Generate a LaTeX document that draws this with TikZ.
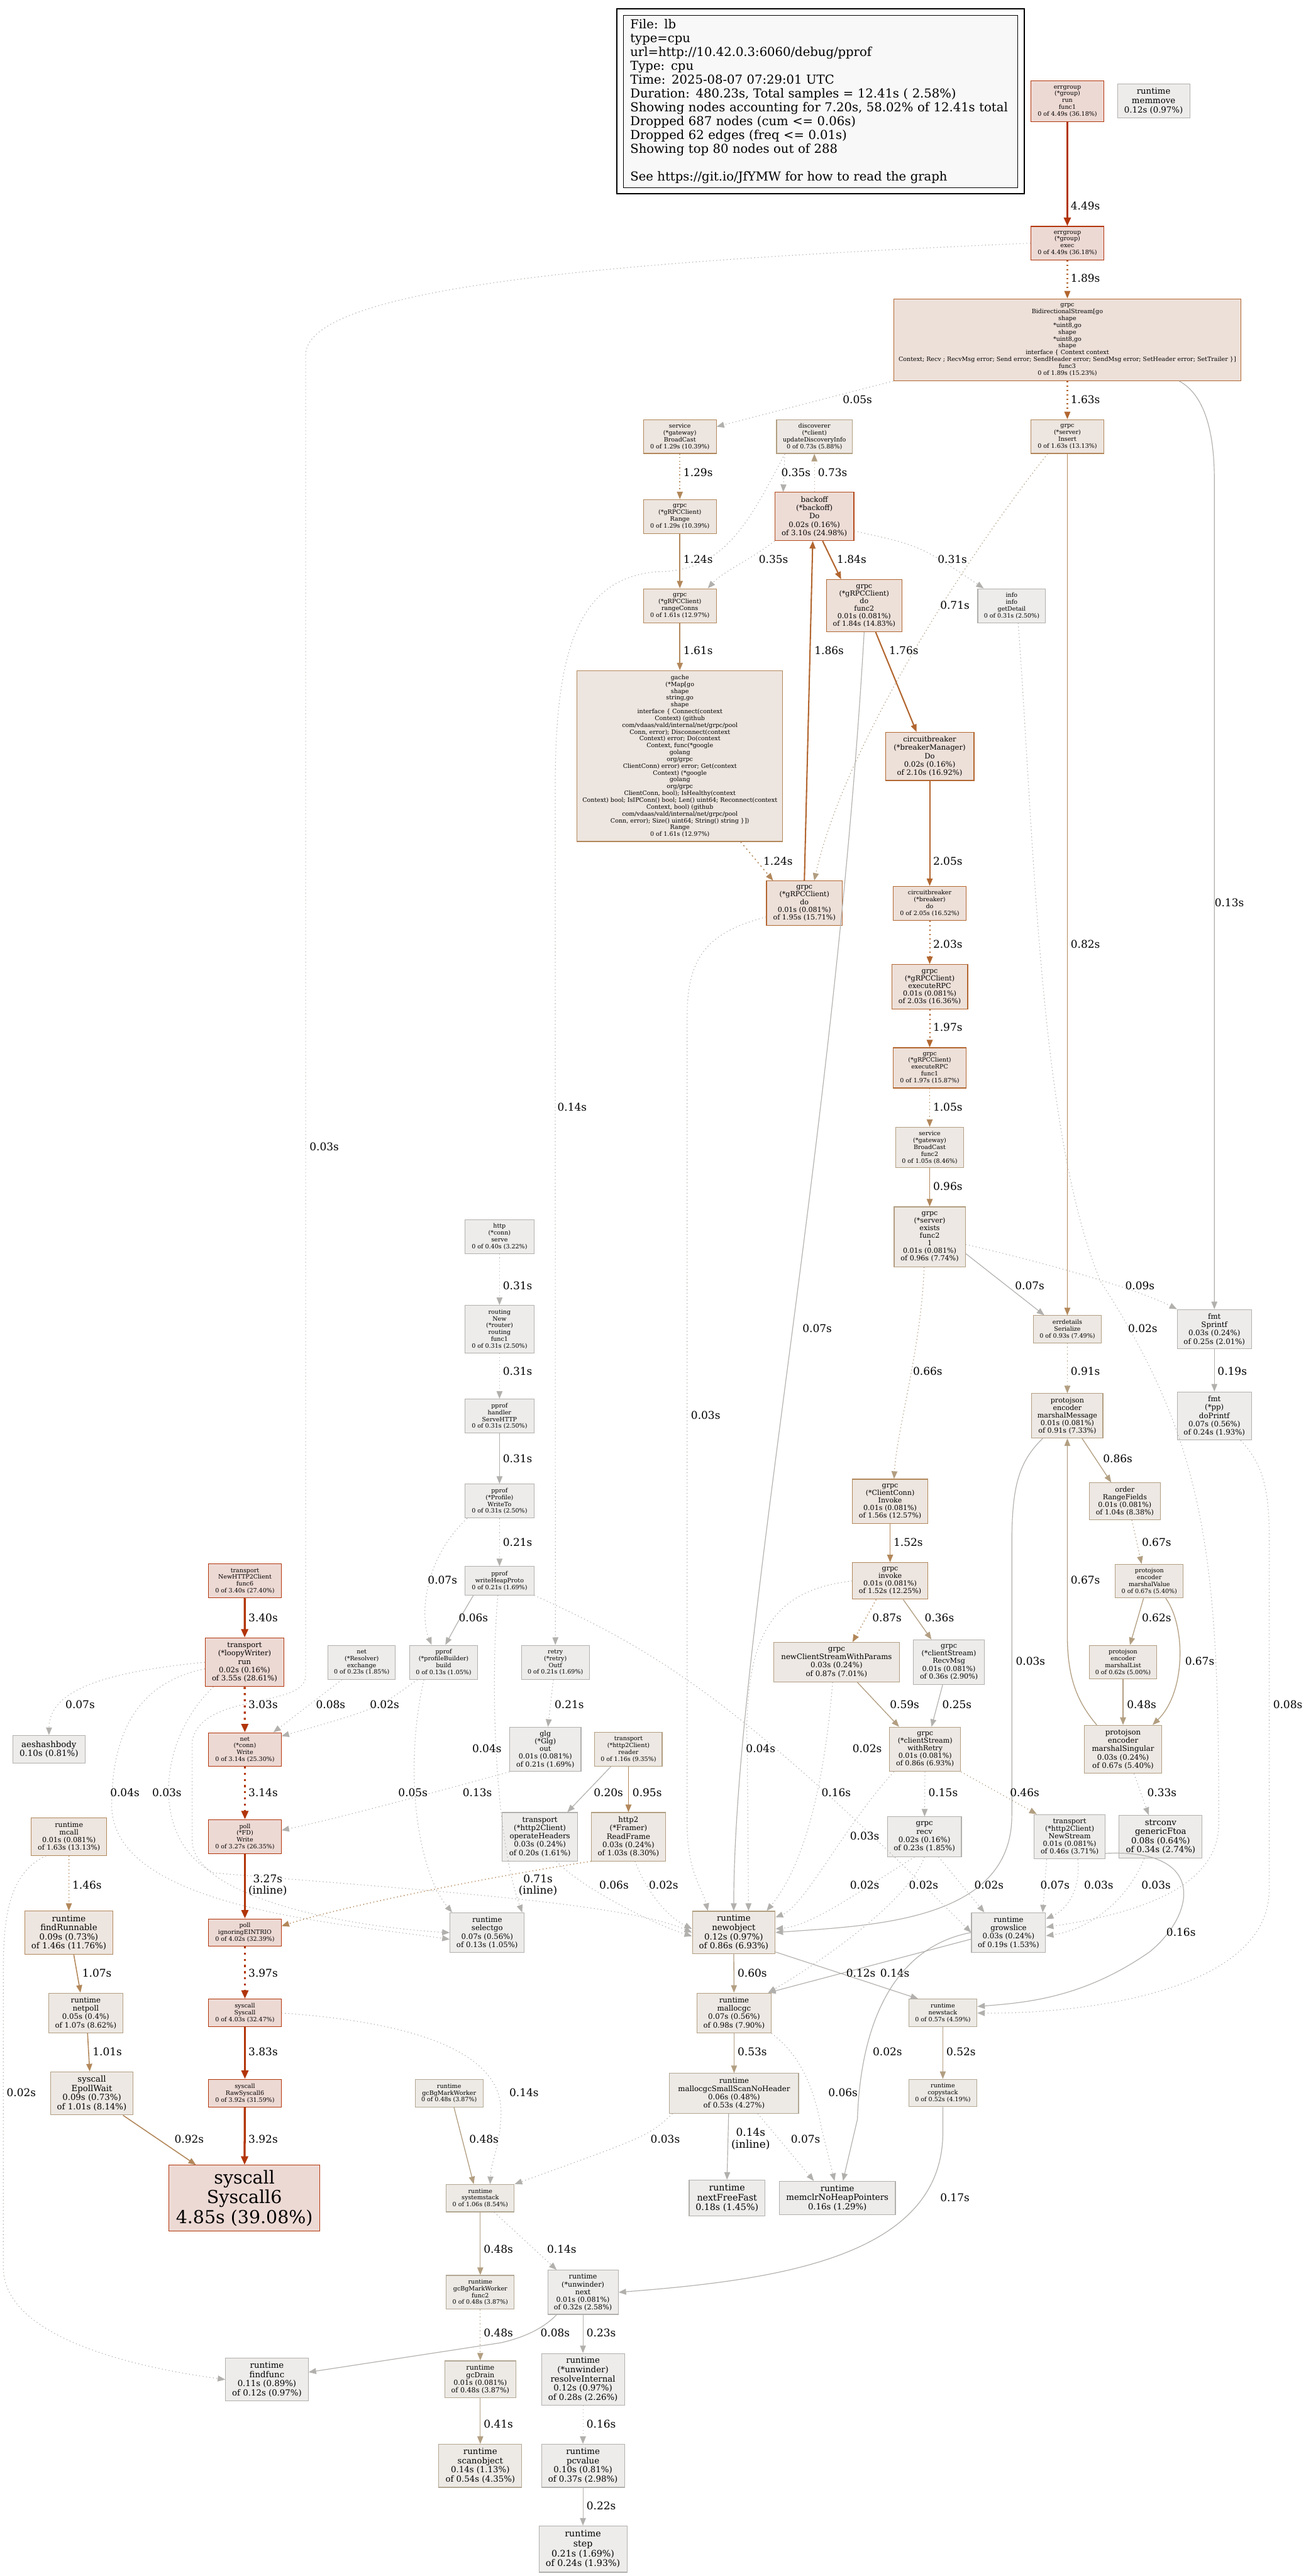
\documentclass[tikz,border=0pt]{standalone}
\usepackage{fontspec}
\setmainfont{DejaVu Serif}
\usetikzlibrary{arrows.meta, positioning}

\definecolor{redln}{HTML}{B2350A}
\definecolor{redfl}{HTML}{EDD9D4}
\definecolor{horln}{HTML}{B2491B}
\definecolor{horfl}{HTML}{EDDCD6}
\definecolor{orgln}{HTML}{B2662F}
\definecolor{orgfl}{HTML}{EDE0D9}
\definecolor{tanln}{HTML}{B2875A}
\definecolor{tanfl}{HTML}{EDE5DF}
\definecolor{bgeln}{HTML}{B29E81}
\definecolor{bgefl}{HTML}{EDE8E3}
\definecolor{lbgln}{HTML}{B2A793}
\definecolor{lbgfl}{HTML}{EDEAE6}
\definecolor{gryln}{HTML}{B2B0AD}
\definecolor{gryfl}{HTML}{EDECEB}
\definecolor{legfl}{HTML}{F8F8F8}

\begin{document}
\begin{tikzpicture}[x=1pt, y=-1pt,
  nd/.style={draw, line width=0.42pt, inner sep=0pt, align=center},
  sz/.style 2 args={minimum width=#1pt, minimum height=#2pt},
  hotbox/.style={nd, draw=redln, fill=redfl},
  horbox/.style={nd, draw=horln, fill=horfl},
  orgbox/.style={nd, draw=orgln, fill=orgfl},
  tanbox/.style={nd, draw=tanln, fill=tanfl},
  bgebox/.style={nd, draw=bgeln, fill=bgefl},
  lbgbox/.style={nd, draw=lbgln, fill=lbgfl},
  grybox/.style={nd, draw=gryln, fill=gryfl},
  f0/.style={font=\fontsize{3.65}{4.15}\selectfont},
  f1/.style={font=\fontsize{4.25}{4.62}\selectfont},
  f2/.style={font=\fontsize{4.45}{5.08}\selectfont},
  f3/.style={font=\fontsize{4.5}{5.08}\selectfont},
  f4/.style={font=\fontsize{5.1}{5.6}\selectfont},
  f5/.style={font=\fontsize{5.45}{6}\selectfont},
  f6/.style={font=\fontsize{10.9}{11.95}\selectfont},
  lab/.style={font=\fontsize{6.5}{7.1}\selectfont, inner sep=0pt, align=center},
  ed/.style={draw=gryln, line width=0.45pt, -{Triangle[length=4.6pt, width=3.6pt]}},
  cr/.style={draw=redln, line width=1.25pt, -{Triangle[length=5.2pt, width=4.2pt]}},
  co/.style={draw=orgln, line width=0.8pt},
  ct/.style={draw=tanln, line width=0.6pt},
  cb/.style={draw=bgeln, line width=0.5pt},
  dt/.style={dash pattern=on 0.5pt off 1.6pt},
  dm/.style={dash pattern=on 0.8pt off 1.9pt},
  dh/.style={dash pattern=on 1.25pt off 2.5pt}]
\useasboundingbox (0,0) rectangle (795,1568);

% legend
\node[draw=black, fill=legfl, line width=0.5pt, inner xsep=4.1pt, inner ysep=0pt,
  minimum height=104.9pt, text width=231.7pt, align=left,
  font=\fontsize{7.5}{8.43}\selectfont] (legend) at (499.55,61.75)
  {File: lb\\type=cpu\\url=http://10.42.0.3:6060/debug/pprof\\Type: cpu\\Time: 2025-08-07 07:29:01 UTC\\Duration: 480.23s, Total samples = 12.41s ( 2.58\%)\\Showing nodes accounting for 7.20s, 58.02\% of 12.41s total\\Dropped 687 nodes (cum <= 0.06s)\\Dropped 62 edges (freq <= 0.01s)\\Showing top 80 nodes out of 288\\[8.43pt]See https://git.io/JfYMW for how to read the graph};
\draw[line width=0.6pt] ([shift={(-3.8,-3.7)}]legend.north west) rectangle ([shift={(3.8,3.4)}]legend.south east);

% nodes
\node[hotbox, f0, sz={44.3}{24.8}] (grun) at (649.8,61.6) {errgroup\\(*group)\\run\\func1\\0 of 4.49s (36.18\%)};
\node[grybox, f4, sz={44}{20.5}] (memmove) at (702.3,61.5) {runtime\\memmove\\0.12s (0.97\%)};
\node[hotbox, f0, sz={44.3}{20.4}] (gexec) at (649.8,148) {errgroup\\(*group)\\exec\\0 of 4.49s (36.18\%)};
\node[orgbox, f0, sz={211.4}{49.8}] (bidi) at (649.8,206.8) {grpc\\BidirectionalStream[go\\shape\\*uint8,go\\shape\\*uint8,go\\shape\\interface \{ Context context\\Context; Recv ; RecvMsg error; Send error; SendHeader error; SendMsg error; SetHeader error; SetTrailer \}]\\func3\\0 of 1.89s (15.23\%)};
\node[tanbox, f0, sz={44.3}{20.6}] (bcast) at (413.9,265.7) {service\\(*gateway)\\BroadCast\\0 of 1.29s (10.39\%)};
\node[bgebox, f0, sz={46.1}{20.6}] (disc) at (495.8,265.7) {discoverer\\(*client)\\updateDiscoveryInfo\\0 of 0.73s (5.88\%)};
\node[tanbox, f0, sz={44.3}{20.6}] (insert) at (649.8,265.7) {grpc\\(*server)\\Insert\\0 of 1.63s (13.13\%)};
\node[tanbox, f0, sz={44.3}{20.6}] (range) at (413.9,314.4) {grpc\\(*gRPCClient)\\Range\\0 of 1.29s (10.39\%)};
\node[horbox, f2, sz={48.1}{29.4}] (backoff) at (495.8,314.4) {backoff\\(*backoff)\\Do\\0.02s (0.16\%)\\of 3.10s (24.98\%)};
\node[tanbox, f0, sz={44.3}{20.7}] (rconns) at (413.9,368.7) {grpc\\(*gRPCClient)\\rangeConns\\0 of 1.61s (12.97\%)};
\node[orgbox, f1, sz={46}{31.7}] (dofunc2) at (526.1,368.7) {grpc\\(*gRPCClient)\\do\\func2\\0.01s (0.081\%)\\of 1.84s (14.83\%)};
\node[grybox, f0, sz={41.3}{20.7}] (info) at (615.9,368.7) {info\\info\\getDetail\\0 of 0.31s (2.50\%)};
\node[tanbox, f0, sz={125.3}{104}] (gache) at (413.9,460.2) {gache\\(*Map[go\\shape\\string,go\\shape\\interface \{ Connect(context\\Context) (github\\com/vdaas/vald/internal/net/grpc/pool\\Conn, error); Disconnect(context\\Context) error; Do(context\\Context, func(*google\\golang\\org/grpc\\ClientConn) error) error; Get(context\\Context) (*google\\golang\\org/grpc\\ClientConn, bool); IsHealthy(context\\Context) bool; IsIPConn() bool; Len() uint64; Reconnect(context\\Context, bool) (github\\com/vdaas/vald/internal/net/grpc/pool\\Conn, error); Size() uint64; String() string \}])\\Range\\0 of 1.61s (12.97\%)};
\node[orgbox, f2, sz={53.9}{29.3}] (cbmgr) at (566,460.4) {circuitbreaker\\(*breakerManager)\\Do\\0.02s (0.16\%)\\of 2.10s (16.92\%)};
\node[orgbox, f1, sz={46.1}{26.9}] (do) at (489.7,549.7) {grpc\\(*gRPCClient)\\do\\0.01s (0.081\%)\\of 1.95s (15.71\%)};
\node[orgbox, f0, sz={44.3}{20.6}] (cbdo) at (566,549.8) {circuitbreaker\\(*breaker)\\do\\0 of 2.05s (16.52\%)};
\node[orgbox, f1, sz={46.3}{27.3}] (exec) at (566,600.7) {grpc\\(*gRPCClient)\\executeRPC\\0.01s (0.081\%)\\of 2.03s (16.36\%)};
\node[orgbox, f0, sz={44.3}{24.5}] (execf1) at (566,650) {grpc\\(*gRPCClient)\\executeRPC\\func1\\0 of 1.97s (15.87\%)};
\node[bgebox, f0, sz={41.3}{24.7}] (bcastf2) at (566,698.5) {service\\(*gateway)\\BroadCast\\func2\\0 of 1.05s (8.46\%)};
\node[bgebox, f1, sz={43.3}{36.4}] (exists) at (566,752.8) {grpc\\(*server)\\exists\\func2\\1\\0.01s (0.081\%)\\of 0.96s (7.74\%)};
\node[grybox, f0, sz={41.9}{20.6}] (httpserve) at (304.1,752.7) {http\\(*conn)\\serve\\0 of 0.40s (3.22\%)};
\node[grybox, f0, sz={41.9}{29.1}] (router) at (304.1,809.1) {routing\\New\\(*router)\\routing\\func1\\0 of 0.31s (2.50\%)};
\node[bgebox, f0, sz={41.3}{16.6}] (errdet) at (649.8,809.1) {errdetails\\Serialize\\0 of 0.93s (7.49\%)};
\node[grybox, f3, sz={45.1}{24}] (sprintf) at (739.3,809.1) {fmt\\Sprintf\\0.03s (0.24\%)\\of 0.25s (2.01\%)};
\node[grybox, f0, sz={41.9}{20.8}] (servehttp) at (304.1,862) {pprof\\handler\\ServeHTTP\\0 of 0.31s (2.50\%)};
\node[bgebox, f1, sz={43.3}{27.1}] (mmsg) at (649.8,861.8) {protojson\\encoder\\marshalMessage\\0.01s (0.081\%)\\of 0.91s (7.33\%)};
\node[grybox, f3, sz={45.1}{29.3}] (doprintf) at (739.3,861.9) {fmt\\(*pp)\\doPrintf\\0.07s (0.56\%)\\of 0.24s (1.93\%)};
\node[grybox, f0, sz={41.9}{20.6}] (writeto) at (304.1,913.7) {pprof\\(*Profile)\\WriteTo\\0 of 0.31s (2.50\%)};
\node[tanbox, f1, sz={45.8}{27.1}] (invoke) at (541.9,913.9) {grpc\\(*ClientConn)\\Invoke\\0.01s (0.081\%)\\of 1.56s (12.57\%)};
\node[bgebox, f1, sz={43.3}{22.5}] (rfields) at (684.8,913.8) {order\\RangeFields\\0.01s (0.081\%)\\of 1.04s (8.38\%)};
\node[hotbox, f0, sz={44.2}{20.6}] (h2func6) at (149.1,962.3) {transport\\NewHTTP2Client\\func6\\0 of 3.40s (27.40\%)};
\node[grybox, f0, sz={41.9}{17.3}] (heapproto) at (304.1,962.2) {pprof\\writeHeapProto\\0 of 0.21s (1.69\%)};
\node[tanbox, f1, sz={45.8}{22.3}] (ginvoke) at (541.9,962.3) {grpc\\invoke\\0.01s (0.081\%)\\of 1.52s (12.25\%)};
\node[bgebox, f0, sz={41.3}{20.5}] (mval) at (699.7,962.4) {protojson\\encoder\\marshalValue\\0 of 0.67s (5.40\%)};
\node[hotbox, f2, sz={48}{29.6}] (loopy) at (148.9,1011.8) {transport\\(*loopyWriter)\\run\\0.02s (0.16\%)\\of 3.55s (28.61\%)};
\node[grybox, f0, sz={41.1}{20.7}] (resolver) at (220.2,1011.8) {net\\(*Resolver)\\exchange\\0 of 0.23s (1.85\%)};
\node[grybox, f0, sz={41.4}{20.7}] (pbuild) at (270.1,1011.8) {pprof\\(*profileBuilder)\\build\\0 of 0.13s (1.05\%)};
\node[grybox, f0, sz={41.4}{20.7}] (retry) at (338.1,1011.8) {retry\\(*retry)\\Outf\\0 of 0.21s (1.69\%)};
\node[bgebox, f3, sz={76.7}{24.1}] (newcs) at (509.3,1011.8) {grpc\\newClientStreamWithParams\\0.03s (0.24\%)\\of 0.87s (7.01\%)};
\node[grybox, f1, sz={43.3}{27.1}] (recvmsg) at (577.7,1011.7) {grpc\\(*clientStream)\\RecvMsg\\0.01s (0.081\%)\\of 0.36s (2.90\%)};
\node[bgebox, f0, sz={41.2}{20.5}] (mlist) at (683.7,1011.8) {protojson\\encoder\\marshalList\\0 of 0.62s (5.00\%)};
\node[grybox, f4, sz={43.9}{17}] (aeshash) at (29.8,1064.8) {aeshashbody\\0.10s (0.81\%)};
\node[hotbox, f0, sz={44.2}{20.4}] (netwrite) at (149.1,1064.9) {net\\(*conn)\\Write\\0 of 3.14s (25.30\%)};
\node[grybox, f1, sz={43.4}{27}] (glg) at (332,1064.8) {glg\\(*Glg)\\out\\0.01s (0.081\%)\\of 0.21s (1.69\%)};
\node[bgebox, f0, sz={41}{20.4}] (h2reader) at (382.6,1064.8) {transport\\(*http2Client)\\reader\\0 of 1.16s (9.35\%)};
\node[bgebox, f1, sz={43.3}{27}] (wretry) at (563.2,1064.8) {grpc\\(*clientStream)\\withRetry\\0.01s (0.081\%)\\of 0.86s (6.93\%)};
\node[bgebox, f3, sz={46.8}{29.3}] (msing) at (683.7,1064.8) {protojson\\encoder\\marshalSingular\\0.03s (0.24\%)\\of 0.67s (5.40\%)};
\node[tanbox, f1, sz={46}{22.7}] (mcall) at (42,1118) {runtime\\mcall\\0.01s (0.081\%)\\of 1.63s (13.13\%)};
\node[hotbox, f0, sz={44.2}{20.7}] (fdwrite) at (149.1,1118) {poll\\(*FD)\\Write\\0 of 3.27s (26.35\%)};
\node[grybox, f3, sz={46}{29.5}] (opheaders) at (328.7,1118) {transport\\(*http2Client)\\operateHeaders\\0.03s (0.24\%)\\of 0.20s (1.61\%)};
\node[bgebox, f3, sz={45}{29.5}] (readframe) at (382.6,1118) {http2\\(*Framer)\\ReadFrame\\0.03s (0.24\%)\\of 1.03s (8.30\%)};
\node[grybox, f3, sz={45}{24.2}] (grecv) at (562.8,1118) {grpc\\recv\\0.02s (0.16\%)\\of 0.23s (1.85\%)};
\node[grybox, f1, sz={43.1}{27.1}] (newstream) at (651.2,1118) {transport\\(*http2Client)\\NewStream\\0.01s (0.081\%)\\of 0.46s (3.71\%)};
\node[grybox, font=\fontsize{5.1}{5.4}\selectfont, sz={50.6}{26.1}] (ftoa) at (706.6,1118) {strconv\\genericFtoa\\0.08s (0.64\%)\\of 0.34s (2.74\%)};
\node[tanbox, f4, sz={53.4}{26.2}] (findrun) at (41.9,1176.4) {runtime\\findRunnable\\0.09s (0.73\%)\\of 1.46s (11.76\%)};
\node[hotbox, f0, sz={44.2}{16.6}] (eintr) at (149.1,1176.3) {poll\\ignoringEINTRIO\\0 of 4.02s (32.39\%)};
\node[grybox, f3, sz={45.2}{24.2}] (selectgo) at (296.6,1176.4) {runtime\\selectgo\\0.07s (0.56\%)\\of 0.13s (1.05\%)};
\node[bgebox, f4, sz={50.4}{25.9}] (newobj) at (446.7,1176.3) {runtime\\newobject\\0.12s (0.97\%)\\of 0.86s (6.93\%)};
\node[grybox, f3, sz={45.1}{24}] (growslice) at (614,1176.3) {runtime\\growslice\\0.03s (0.24\%)\\of 0.19s (1.53\%)};
\node[bgebox, f3, sz={45}{24.3}] (netpoll) at (52.2,1225.3) {runtime\\netpoll\\0.05s (0.4\%)\\of 1.07s (8.62\%)};
\node[hotbox, f0, sz={44.2}{16.9}] (syscall) at (149.1,1225.3) {syscall\\Syscall\\0 of 4.03s (32.47\%)};
\node[bgebox, f3, sz={45.1}{24.3}] (mallocgc) at (446.9,1225.3) {runtime\\mallocgc\\0.07s (0.56\%)\\of 0.98s (7.90\%)};
\node[lbgbox, f0, sz={41.5}{16.9}] (newstack) at (574,1225.3) {runtime\\newstack\\0 of 0.57s (4.59\%)};
\node[bgebox, f4, sz={50.3}{26.3}] (epoll) at (55.9,1274.2) {syscall\\EpollWait\\0.09s (0.73\%)\\of 1.01s (8.14\%)};
\node[hotbox, f0, sz={44.2}{16.9}] (rawsys) at (149.1,1274.1) {syscall\\RawSyscall6\\0 of 3.92s (31.59\%)};
\node[lbgbox, f0, sz={41.4}{16.9}] (gcbg) at (273.4,1274.1) {runtime\\gcBgMarkWorker\\0 of 0.48s (3.87\%)};
\node[lbgbox, f3, sz={78.5}{24.3}] (mallocss) at (446.9,1274.2) {runtime\\mallocgcSmallScanNoHeader\\0.06s (0.48\%)\\of 0.53s (4.27\%)};
\node[lbgbox, f0, sz={41.5}{16.7}] (copystack) at (574,1274) {runtime\\copystack\\0 of 0.52s (4.19\%)};
\node[hotbox, f6, sz={92}{40.1}] (syscall6) at (148.8,1338) {syscall\\Syscall6\\4.85s (39.08\%)};
\node[lbgbox, f0, sz={41.4}{16.7}] (sysstack) at (292.4,1338) {runtime\\systemstack\\0 of 1.06s (8.54\%)};
\node[grybox, f5, sz={46.1}{21.8}] (nextfree) at (442.6,1337.9) {runtime\\nextFreeFast\\0.18s (1.45\%)};
\node[grybox, f4, sz={70.6}{20.4}] (memclr) at (509.8,1337.9) {runtime\\memclrNoHeapPointers\\0.16s (1.29\%)};
\node[lbgbox, f0, sz={41.4}{20.6}] (gcbgf2) at (292.4,1395.3) {runtime\\gcBgMarkWorker\\func2\\0 of 0.48s (3.87\%)};
\node[grybox, f1, sz={42.9}{26.9}] (unext) at (354.9,1395.3) {runtime\\(*unwinder)\\next\\0.01s (0.081\%)\\of 0.32s (2.58\%)};
\node[grybox, f4, sz={50.3}{26.2}] (findfunc) at (162.5,1448.4) {runtime\\findfunc\\0.11s (0.89\%)\\of 0.12s (0.97\%)};
\node[lbgbox, f1, sz={43.4}{22.5}] (gcdrain) at (292.4,1448.3) {runtime\\gcDrain\\0.01s (0.081\%)\\of 0.48s (3.87\%)};
\node[grybox, f4, sz={50.5}{31.6}] (resolve) at (354.9,1448.3) {runtime\\(*unwinder)\\resolveInternal\\0.12s (0.97\%)\\of 0.28s (2.26\%)};
\node[lbgbox, f4, sz={50.6}{26.2}] (scanobj) at (292.4,1500.9) {runtime\\scanobject\\0.14s (1.13\%)\\of 0.54s (4.35\%)};
\node[grybox, f4, sz={50.5}{26.2}] (pcvalue) at (354.9,1500.9) {runtime\\pcvalue\\0.10s (0.81\%)\\of 0.37s (2.98\%)};
\node[grybox, f5, sz={53.6}{28.2}] (step) at (354.9,1551.6) {runtime\\step\\0.21s (1.69\%)\\of 0.24s (1.93\%)};

% edges, top part
\draw[ed,cr] (grun) -- (gexec) node[lab] at (660.8,125.4) {4.49s};
\draw[ed,co,dm] (gexec) -- (bidi) node[lab] at (660.8,169.4) {1.89s};
\draw[ed,dt] (bidi.south west) -- (bcast.15) node[lab] at (522,243.2) {0.05s};
\draw[ed,co,dm] (bidi) -- (insert) node[lab] at (660.8,243.2) {1.63s};
\draw[ed] ([xshift=68pt]bidi.south) .. controls (733,240) and (739.3,262) .. (739.3,292) -- (sprintf.north) node[lab] at (748.4,549.3) {0.13s};
\draw[ed,dt] (gexec.west) .. controls (400,158) and (190,172) .. (186.1,215) -- (186.1,1020) .. controls (186.1,1040) and (122,1030) .. (117,1060) -- (117,1120) .. controls (117,1152) and (200,1172) .. (selectgo.west) node[lab] at (197.4,698.1) {0.03s};
\draw[ed,ct,dt] (bcast) -- (range) node[lab] at (425,287.5) {1.29s};
\draw[ed,dt] ([xshift=-18pt]disc.south) -- ([xshift=-19pt]backoff.north) node[lab] at (484.6,287.5) {0.35s};
\draw[ed,cb,dt] (backoff) -- (disc) node[lab] at (506.9,287.5) {0.73s};
\draw[ed,dt] ([xshift=-18pt]disc.south) .. controls (455,320) and (440,348) .. (400,348) .. controls (350,352) and (338,400) .. (338,480) -- (retry.north) node[lab] at (348.3,673.8) {0.14s};
\draw[ed,ct] (range) -- (rconns) node[lab] at (425,340.5) {1.24s};
\draw[ed,dt] (backoff.south west) .. controls (458,340) and (440,348) .. ([xshift=17pt]rconns.north) node[lab] at (470.9,340.5) {0.35s};
\draw[ed,co] ([xshift=5pt]backoff.south) -- ([xshift=-14pt]dofunc2.north) node[lab] at (518.5,340.5) {1.84s};
\draw[ed,dt] (backoff.-20) .. controls (560,332) .. ([xshift=-17pt]info.north) node[lab] at (579.8,340.5) {0.31s};
\draw[ed,cb,dt] ([xshift=-12pt]insert.south) .. controls (595,330) and (515,450) .. ([xshift=6pt]do.north) node[lab] at (581.3,368.4) {0.71s};
\draw[ed,ct] (rconns) -- (gache) node[lab] at (425,395.8) {1.61s};
\draw[ed,co] (do.north) -- ([xshift=-1pt]backoff.south) node[lab] at (504.8,395.8) {1.86s};
\draw[ed,co] ([xshift=7pt]dofunc2.south) -- ([xshift=-8pt]cbmgr.north) node[lab] at (550.2,395.8) {1.76s};
\draw[ed] (dofunc2.south) .. controls (508,700) and (447,1000) .. (newobj.north) node[lab] at (497.5,808.6) {0.07s};
\draw[ed,ct,dm] ([xshift=37pt]gache.south) -- ([xshift=-19pt]do.north) node[lab] at (473.7,524.1) {1.24s};
\draw[ed,co] (cbmgr) -- (cbdo) node[lab] at (577,524.1) {2.05s};
\draw[ed,co,dm] (cbdo) -- (exec) node[lab] at (577,574.7) {2.03s};
\draw[ed,co,dm] (exec) -- (execf1) node[lab] at (577,625.4) {1.97s};
\draw[ed,ct,dt] (execf1) -- (bcastf2) node[lab] at (577,673.9) {1.05s};
\draw[ed,ct] (bcastf2) -- (exists) node[lab] at (577,722.2) {0.96s};
\draw[ed,ct] (insert) -- (errdet) node[lab] at (660.8,574.7) {0.82s};
\draw[ed,dt] ([xshift=4pt]info.south) .. controls (630,520) and (633,690) .. (670,780) .. controls (735,880) and (742,950) .. (742,1110) .. controls (742,1150) and (690,1165) .. (growslice.8) node[lab] at (695.7,808.6) {0.02s};
\draw[ed] (exists.-25) -- ([xshift=-14pt]errdet.north) node[lab] at (626.9,782.4) {0.07s};
\draw[ed,dt] (exists.-12) .. controls (650,772) and (695,786) .. (sprintf.north west) node[lab] at (694,782.4) {0.09s};
\draw[ed,cb,dt] ([xshift=-3.4pt]exists.south) .. controls (561,820) and (546,870) .. ([xshift=2.4pt]invoke.north) node[lab] at (564.8,834.8) {0.66s};
\draw[ed,cb,dt] (errdet) -- (mmsg) node[lab] at (660.8,834.8) {0.91s};
\draw[ed] (sprintf) -- (doprintf) node[lab] at (750.2,834.8) {0.19s};

% http / pprof column
\draw[ed,dt] (httpserve) -- (router) node[lab] at (315.1,782.4) {0.31s};
\draw[ed,dt] (router) -- (servehttp) node[lab] at (315.1,834.8) {0.31s};
\draw[ed] (servehttp) -- (writeto) node[lab] at (315.1,888) {0.31s};
\draw[ed,dt] (writeto) -- (heapproto) node[lab] at (315.1,938.8) {0.21s};
\draw[ed,dt] ([xshift=-19.7pt]writeto.south) .. controls (257,950) and (256,985) .. ([xshift=-7.3pt]pbuild.north) node[lab] at (269.4,961.8) {0.07s};
\draw[ed] ([xshift=-15.9pt]heapproto.south) .. controls (280,985) .. ([xshift=1pt]pbuild.north) node[lab] at (288.2,984.8) {0.06s};
\draw[ed,dt] ([xshift=-1pt]heapproto.south) .. controls (298,1030) and (302,1120) .. (selectgo.30) node[lab] at (296.4,1064.5) {0.04s};
\draw[ed,dt] (heapproto.south east) .. controls (400,1005) and (450,1035) .. (growslice.west) node[lab] at (526.4,1117.6) {0.03s};
\draw[ed,dt] (retry) -- (glg) node[lab] at (346.6,1037.7) {0.21s};
\draw[ed,dt] (glg.south west) .. controls (250,1095) and (200,1108) .. (fdwrite.10) node[lab] at (290.6,1091) {0.13s};
\draw[ed,dt] ([xshift=-12pt]pbuild.south) .. controls (245,1080) and (255,1140) .. (selectgo.150) node[lab] at (251.4,1091) {0.05s};
\draw[ed,dt] ([xshift=-16pt]pbuild.south) .. controls (230,1040) .. (netwrite.20) node[lab] at (234.1,1037.7) {0.02s};
\draw[ed,dt] ([xshift=-12pt]resolver.south) -- ([xshift=-5pt]netwrite.north east) node[lab] at (201.3,1037.7) {0.08s};

% middle
\draw[ed,dt] (do.200) .. controls (428,568) and (418.3,585) .. (418.3,620) -- (418.3,1110) .. controls (418.3,1140) and (428,1150) .. ([xshift=-15.8pt]newobj.north) node[lab] at (429.6,861.4) {0.03s};
\draw[ed,cb] ([xshift=9pt]mmsg.south) -- ([xshift=-8.3pt]rfields.north) node[lab] at (680.5,888) {0.86s};
\draw[ed] ([xshift=-15pt]mmsg.south) .. controls (620,890) and (616,905) .. (616,940) -- (616,1105) .. controls (616,1170) and (530,1172) .. (newobj.east) node[lab] at (627.4,1011.2) {0.03s};
\draw[ed,ct] (invoke) -- (ginvoke) node[lab] at (552.9,938.7) {1.52s};
\draw[ed,cb,dt] ([xshift=4.3pt]rfields.south) -- ([xshift=-4.7pt]mval.north) node[lab] at (704.1,938.7) {0.67s};
\draw[ed,cb] ([xshift=-16pt]msing.north) .. controls (655,1035) and (649.8,1020) .. (649.8,995) -- (mmsg.south) node[lab] at (660.8,961.8) {0.67s};
\draw[ed,ct,dt] ([xshift=-8.5pt]ginvoke.south) -- ([xshift=9.7pt]newcs.north) node[lab] at (540,984.8) {0.87s};
\draw[ed,cb] ([xshift=8pt]ginvoke.south) -- ([xshift=-10.6pt]recvmsg.north) node[lab] at (571.9,984.8) {0.36s};
\draw[ed,cb] ([xshift=-3.5pt]mval.south) -- ([xshift=4.2pt]mlist.north) node[lab] at (704.1,984.8) {0.62s};
\draw[ed,cb] ([xshift=10pt]mval.south) .. controls (722,990) and (722,1030) .. ([xshift=18pt]msing.north) node[lab] at (730.4,1011.2) {0.67s};
\draw[ed,cb] (mlist) -- (msing) node[lab] at (695,1037.4) {0.48s};
\draw[ed,cb] ([xshift=12.7pt]newcs.south) -- ([xshift=-15.8pt]wretry.north) node[lab] at (550.7,1037.4) {0.59s};
\draw[ed] ([xshift=-3.8pt]recvmsg.south) -- ([xshift=3.9pt]wretry.north) node[lab] at (582.6,1037.4) {0.25s};
\draw[ed,dt] ([xshift=16pt]doprintf.south) .. controls (768,890) and (772.7,905) .. (772.7,935) -- (772.7,1150) .. controls (772.7,1215) and (650,1226) .. (newstack.east) node[lab] at (784,1037.4) {0.08s};
\draw[ed,dt] ([xshift=6.7pt]msing.south) -- ([xshift=-7.3pt]ftoa.north) node[lab] at (707.4,1091) {0.33s};
\draw[ed,dt] (wretry) -- (grecv) node[lab] at (574.2,1091) {0.15s};
\draw[ed,cb,dt] (wretry.south east) -- ([xshift=-20pt]newstream.north) node[lab] at (623.8,1091) {0.46s};
\draw[ed,dt] ([xshift=-2.4pt]newcs.south) .. controls (502,1085) and (490,1135) .. ([xshift=20pt]newobj.north) node[lab] at (509.1,1091) {0.16s};
\draw[ed,dt] (ginvoke.west) .. controls (470,968) and (452,995) .. (455,1070) -- ([xshift=9pt]newobj.north) node[lab] at (463.1,1064.5) {0.04s};
\draw[ed,dt] ([xshift=-19pt]wretry.south) .. controls (515,1110) and (490,1160) .. (newobj.20) node[lab] at (527.9,1064.5) {0.02s};
\draw[ed,dt] ([xshift=-6pt]grecv.south) .. controls (525,1150) and (495,1172) .. (newobj.5) node[lab] at (526.4,1147.4) {0.02s};
\draw[ed,dt] (grecv.south) .. controls (552,1160) and (490,1200) .. ([xshift=-2pt]mallocgc.north east) node[lab] at (562.3,1147.4) {0.02s};
\draw[ed,dt] ([xshift=8.6pt]grecv.south) -- ([xshift=-14.7pt]growslice.north) node[lab] at (602.1,1147.4) {0.02s};
\draw[ed,dt] ([xshift=-14pt]newstream.south) -- ([xshift=-2pt]growslice.north east) node[lab] at (642.3,1147.4) {0.07s};
\draw[ed,dt] ([xshift=5pt]newstream.south) .. controls (658,1150) and (650,1162) .. (growslice.20) node[lab] at (668.9,1147.4) {0.03s};
\draw[ed,dt] ([xshift=-10pt]ftoa.south) .. controls (685,1160) and (660,1175) .. (growslice.-5) node[lab] at (703.8,1147.4) {0.03s};
\draw[ed] (newstream.-25) .. controls (735,1125) and (728,1165) .. (700,1188) .. controls (660,1216) and (625,1219) .. ([yshift=4pt]newstack.east) node[lab] at (719,1176) {0.16s};

% left hot path
\draw[ed,cr] (h2func6) -- (loopy) node[lab] at (160.2,984.8) {3.40s};
\draw[ed,dt] (loopy.west) .. controls (60,1018) and (30,1030) .. (aeshash.north) node[lab] at (48.8,1037.7) {0.07s};
\draw[ed,dt] ([yshift=-4pt]loopy.west) .. controls (80,1025) and (68,1060) .. (68,1100) .. controls (70,1160) and (200,1170) .. (selectgo.190) node[lab] at (76,1091) {0.04s};
\draw[ed,dt] ([xshift=-19pt]loopy.south) .. controls (95,1060) and (92,1120) .. (130,1140) .. controls (250,1150) and (380,1158) .. (newobj.west) node[lab] at (101.6,1091) {0.03s};
\draw[ed,cr,dh] (loopy) -- (netwrite) node[lab] at (160.2,1037.7) {3.03s};
\draw[ed,cr,dh] (netwrite) -- (fdwrite) node[lab] at (160.2,1091) {3.14s};
\draw[ed,cr] (fdwrite) -- (eintr) node[lab] at (163,1147.5) {3.27s\\(inline)};
\draw[ed,cr,dh] (eintr) -- (syscall) node[lab] at (160.2,1200.9) {3.97s};
\draw[ed,cr] (syscall) -- (rawsys) node[lab] at (160.2,1248.9) {3.83s};
\draw[ed,cr] (rawsys) -- (syscall6) node[lab] at (160.2,1302.1) {3.92s};
\draw[ed,ct,dt] (mcall) -- (findrun) node[lab] at (53,1147.4) {1.46s};
\draw[ed,ct] ([xshift=3pt]findrun.south) -- ([xshift=-3.2pt]netpoll.north) node[lab] at (59,1200.9) {1.07s};
\draw[ed,ct] ([xshift=1.1pt]netpoll.south) -- ([xshift=-1.3pt]epoll.north) node[lab] at (65.3,1248.9) {1.01s};
\draw[ed,ct] ([xshift=19pt]epoll.south) -- ([xshift=-29.5pt]syscall6.north) node[lab] at (115.2,1302.1) {0.92s};
\draw[ed,dt] ([xshift=-14pt]mcall.south) .. controls (6,1140) and (2,1165) .. (2,1200) -- (2,1380) .. controls (2,1425) and (90,1442) .. (findfunc.west) node[lab] at (13,1273.8) {0.02s};
\draw[ed] ([xshift=-10.6pt]h2reader.south) -- ([xshift=16.7pt]opheaders.north) node[lab] at (370.4,1091) {0.20s};
\draw[ed,ct] (h2reader) -- (readframe) node[lab] at (394,1091) {0.95s};
\draw[ed,ct,dt] (readframe.south west) .. controls (300,1142) and (210,1160) .. (eintr.10) node[lab] at (327.5,1147.5) {0.71s\\(inline)};
\draw[ed,dt] ([xshift=10pt]opheaders.south) .. controls (355,1150) and (400,1172) .. (newobj.185) node[lab] at (373.8,1147.4) {0.06s};
\draw[ed,dt] ([xshift=4pt]readframe.south) .. controls (393,1150) and (405,1166) .. (newobj.175) node[lab] at (404,1147.4) {0.02s};

% bottom
\draw[ed,cb] (newobj) -- (mallocgc) node[lab] at (458,1200.9) {0.60s};
\draw[ed] (newobj.-25) -- ([xshift=-15pt]newstack.north) node[lab] at (544.8,1200.9) {0.14s};
\draw[ed] (growslice.190) -- ([xshift=-2pt]mallocgc.north east) node[lab] at (524.1,1200.9) {0.12s};
\draw[ed] (growslice.west) .. controls (545,1185) and (524,1230) .. (522,1290) -- ([xshift=3.4pt]memclr.north) node[lab] at (540.3,1248.9) {0.02s};
\draw[ed,cb] (mallocgc) -- (mallocss) node[lab] at (458,1248.9) {0.53s};
\draw[ed,cb] (newstack) -- (copystack) node[lab] at (585.1,1248.9) {0.52s};
\draw[ed,dt] (mallocgc.south east) .. controls (486,1250) and (495,1268) .. (500,1295) -- ([xshift=-1.7pt]memclr.north) node[lab] at (513.2,1273.6) {0.06s};
\draw[ed] ([xshift=-3.3pt]mallocss.south) -- (nextfree.north) node[lab] at (457,1302) {0.14s\\(inline)};
\draw[ed,dt] ([xshift=14.4pt]mallocss.south) -- ([xshift=-14.3pt]memclr.north) node[lab] at (490.4,1302) {0.07s};
\draw[ed,dt] ([xshift=2pt]mallocss.south west) .. controls (395,1300) .. (sysstack.north east) node[lab] at (405,1302) {0.03s};
\draw[ed] (copystack.south) -- (574,1300) .. controls (572,1375) and (470,1388) .. (unext.east) node[lab] at (581.3,1337.6) {0.17s};
\draw[ed,dt] (syscall.east) .. controls (240,1230) and (305,1245) .. (305,1285) .. controls (305,1305) and (299,1315) .. ([xshift=6pt]sysstack.north) node[lab] at (319,1273.8) {0.14s};
\draw[ed,cb] ([xshift=3pt]gcbg.south) -- ([xshift=-4pt]sysstack.north) node[lab] at (294.6,1302.1) {0.48s};
\draw[ed,cb] (sysstack) -- (gcbgf2) node[lab] at (303.4,1369.2) {0.48s};
\draw[ed,dt] ([xshift=8.5pt]sysstack.south) -- ([xshift=-16pt]unext.north) node[lab] at (342,1369.2) {0.14s};
\draw[ed,cb,dt] (gcbgf2) -- (gcdrain) node[lab] at (303.4,1420) {0.48s};
\draw[ed] ([xshift=-16pt]unext.south) .. controls (330,1418) and (318,1423) .. (305,1426) -- (findfunc.10) node[lab] at (338,1420) {0.08s};
\draw[ed] (unext) -- (resolve) node[lab] at (366,1420) {0.23s};
\draw[ed,cb] (gcdrain) -- (scanobj) node[lab] at (303.4,1475.5) {0.41s};
\draw[ed,dt] (resolve) -- (pcvalue) node[lab] at (366,1475.5) {0.16s};
\draw[ed] (pcvalue) -- (step) node[lab] at (366,1525.3) {0.22s};
\end{tikzpicture}
\end{document}
